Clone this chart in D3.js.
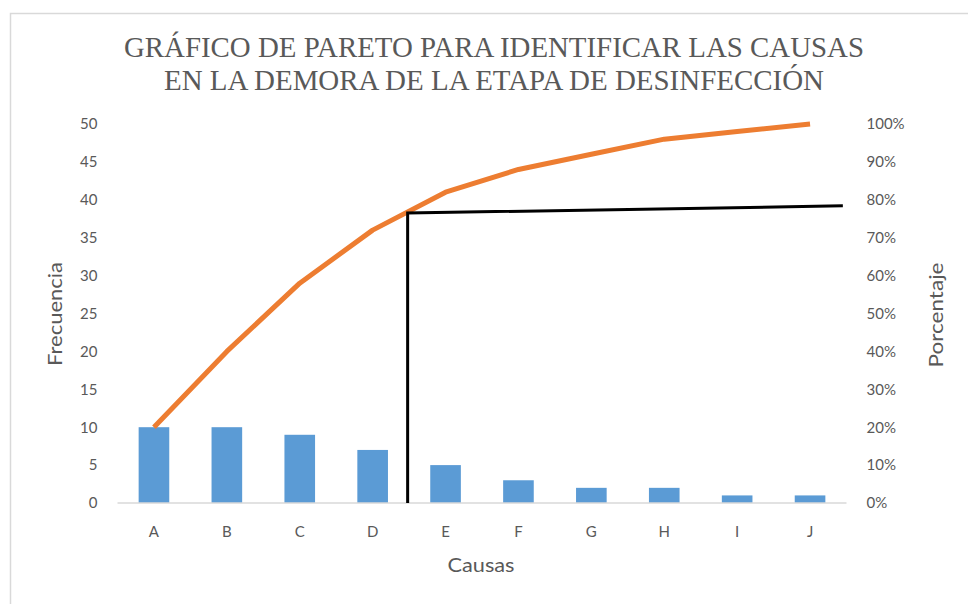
<!DOCTYPE html>
<html lang="es">
<head>
<meta charset="utf-8">
<title>Pareto</title>
<script src="https://d3js.org/d3.v7.min.js"></script>
<style>
  body { margin: 0; background: #fff; }
  .tick text, .lbl { font-family: Lato, "Open Sans", sans-serif; fill: #595959; }
</style>
</head>
<body>
<script>
// data
var causas = ["A", "B", "C", "D", "E", "F", "G", "H", "I", "J"];
var frecuencia = [10, 10, 9, 7, 5, 3, 2, 2, 1, 1];
var freqTicks = [0, 5, 10, 15, 20, 25, 30, 35, 40, 45, 50];
var pctTicks = [0, 10, 20, 30, 40, 50, 60, 70, 80, 90, 100];
// hand drawn 80/20 guide (position in category slots, percent)
var guidePos = [3.98, 3.98, 9.95];
var guidePct = [0, 76.5, 78.4];
var titleLines = ["GRÁFICO DE PARETO PARA IDENTIFICAR LAS CAUSAS",
                  "EN LA DEMORA DE LA ETAPA DE DESINFECCIÓN"];

var total = d3.sum(frecuencia);
var acumulado = Array.from(d3.cumsum(frecuencia)).map(function(v) { return v / total * 100; });

var w = 968, h = 604;
// plot area (note: "top" is reserved on window)
var pLeft = 117.5, pRight = 846.5, pTop = 124, pBottom = 503;

var svg = d3.select("body").append("svg")
    .attr("width", w).attr("height", h);

// chart frame
svg.append("rect")
    .attr("x", 10.5).attr("y", 13.5)
    .attr("width", 1000).attr("height", 700)
    .attr("fill", "none").attr("stroke", "#d9d9d9").attr("stroke-width", 1.5);

var x = d3.scaleBand().domain(causas).range([pLeft, pRight])
    .paddingInner(0.58).paddingOuter(0.29);
var slot = d3.scaleLinear().domain([0, causas.length]).range([pLeft, pRight]);
var yF = d3.scaleLinear().domain([0, 50]).range([pBottom, pTop]);
var yP = d3.scaleLinear().domain([0, 100]).range([pBottom, pTop]);

// title
svg.selectAll(".title").data(titleLines).enter().append("text")
    .attr("class", "title")
    .attr("x", 494).attr("y", function(d, i) { return 57 + i * 33; })
    .attr("text-anchor", "middle")
    .attr("textLength", function(d, i) { return i == 0 ? 740 : 660; })
    .attr("lengthAdjust", "spacingAndGlyphs")
    .style("font-family", "'Liberation Serif', 'DejaVu Serif', serif")
    .style("font-size", "30px")
    .style("fill", "#595959")
    .text(function(d) { return d; });

// axes
var axL = svg.append("g").attr("transform", "translate(" + (pLeft - 20) + ",0)")
    .call(d3.axisLeft(yF).tickValues(freqTicks).tickSize(0).tickPadding(0));
var axR = svg.append("g").attr("transform", "translate(" + (pRight + 20) + ",0)")
    .call(d3.axisRight(yP).tickValues(pctTicks).tickSize(0).tickPadding(0)
        .tickFormat(function(d) { return d + "%"; }));
var axB = svg.append("g").attr("transform", "translate(0," + pBottom + ")")
    .call(d3.axisBottom(x).tickSize(0).tickPadding(23));
[axL, axR, axB].forEach(function(g) {
    g.select(".domain").remove();
    g.selectAll("text").style("font-size", "15px");
});

// bars
svg.selectAll(".bar").data(frecuencia).enter().append("rect")
    .attr("class", "bar")
    .attr("x", function(d, i) { return x(causas[i]); })
    .attr("y", function(d) { return yF(d); })
    .attr("width", x.bandwidth())
    .attr("height", function(d) { return pBottom - yF(d); })
    .attr("fill", "#5b9bd5");

// baseline
svg.append("line")
    .attr("x1", pLeft).attr("x2", pRight).attr("y1", pBottom).attr("y2", pBottom)
    .attr("stroke", "#d9d9d9").attr("stroke-width", 1.5);

// cumulative line
var line = d3.line()
    .x(function(d, i) { return x(causas[i]) + x.bandwidth() / 2; })
    .y(function(d) { return yP(d); });
svg.append("path").datum(acumulado)
    .attr("d", line)
    .attr("fill", "none").attr("stroke", "#ed7d31").attr("stroke-width", 5)
    .attr("stroke-linejoin", "round");

// guide lines
var guide = d3.line()
    .x(function(d) { return slot(d); })
    .y(function(d, i) { return yP(guidePct[i]); });
svg.append("path").datum(guidePos)
    .attr("d", guide)
    .attr("fill", "none").attr("stroke", "#000").attr("stroke-width", 3);

// axis titles
svg.append("text").attr("class", "lbl")
    .attr("transform", "translate(62,314) rotate(-90)")
    .attr("text-anchor", "middle").style("font-size", "19px")
    .attr("textLength", 104).attr("lengthAdjust", "spacingAndGlyphs")
    .text("Frecuencia");
svg.append("text").attr("class", "lbl")
    .attr("transform", "translate(943,315) rotate(-90)")
    .attr("text-anchor", "middle").style("font-size", "19px")
    .attr("textLength", 105).attr("lengthAdjust", "spacingAndGlyphs")
    .text("Porcentaje");
svg.append("text").attr("class", "lbl")
    .attr("x", 481).attr("y", 572)
    .attr("text-anchor", "middle").style("font-size", "19px")
    .attr("textLength", 67).attr("lengthAdjust", "spacingAndGlyphs")
    .text("Causas");
</script>
</body>
</html>
